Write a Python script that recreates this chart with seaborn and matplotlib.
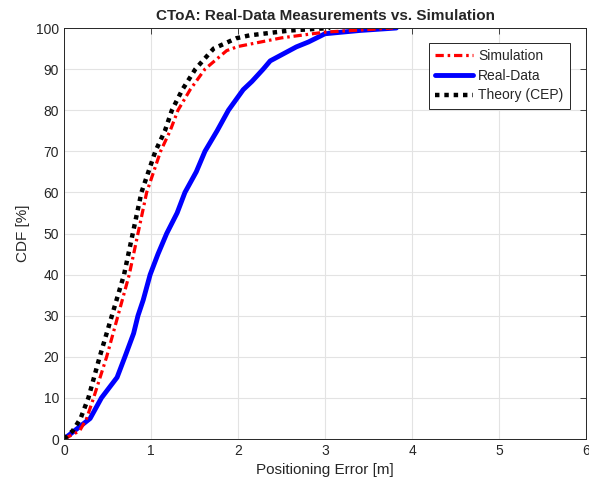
import pandas as pd
import seaborn as sns
import matplotlib.pyplot as plt

# CDF curves (x = positioning error [m], y = CDF [%])
sim_x = [0, 0.18, 0.26, 0.34, 0.49, 0.62, 0.75, 0.85, 0.95, 1.11, 1.22, 1.31, 1.45, 1.62, 1.87, 2.0, 2.5, 3.0, 3.78]
sim_y = [0, 2, 5, 10, 20, 30, 40, 50, 60, 70, 75, 80, 85, 90, 94.5, 95.5, 97.6, 99.0, 100]

real_x = [0, 0.12, 0.30, 0.43, 0.61, 0.70, 0.80, 0.85, 0.91, 0.99, 1.08, 1.18, 1.30, 1.39, 1.52, 1.62, 1.76, 1.89,
          2.06, 2.16, 2.29, 2.37, 2.67, 2.81, 3.0, 3.40, 3.82]
real_y = [0, 2, 5, 10, 15, 20, 25.7, 30, 33.8, 40, 45, 50, 55, 60, 65, 70, 75, 80,
          85, 87, 90, 92, 95.4, 96.6, 98.6, 99.4, 100]

cep_x = [0, 0.10, 0.19, 0.28, 0.41, 0.55, 0.69, 0.79, 0.89, 1.05, 1.16, 1.24, 1.36, 1.51, 1.72, 1.98, 2.13, 2.6, 3.06]
cep_y = [0, 2, 5, 10, 20, 30, 40, 50, 60, 70, 75, 80, 85, 90, 95, 97.5, 98.2, 99.4, 100]

sns.set_style("white")
plt.rcParams['font.family'] = ['Liberation Sans', 'DejaVu Sans']

fig = plt.figure(figsize=(5.89, 4.93), dpi=100)
ax = fig.add_axes([0.1087, 0.1095, 0.8862, 0.8337])

sns.lineplot(x=real_x, y=real_y, ax=ax, color='#0000ff', lw=3.5,
             label='Real-Data', sort=False)
sns.lineplot(x=sim_x, y=sim_y, ax=ax, color='#ff0000', lw=2.3,
             linestyle=(0, (2.6, 1.2, 0.8, 1.2)), label='Simulation', sort=False)
sns.lineplot(x=cep_x, y=cep_y, ax=ax, color='black', lw=3.2,
             linestyle=(0, (1, 1.1)), label='Theory (CEP)', sort=False)

ax.set_xlim(0, 6)
ax.set_ylim(0, 100)
ax.set_xticks(range(0, 7))
ax.set_yticks(range(0, 101, 10))
ax.grid(True, color='#e3e3e3', lw=0.8)
ax.set_axisbelow(True)
ax.tick_params(direction='in', length=4, width=0.6, colors='#262626', labelsize=10,
               top=True, right=True, labelcolor='#262626')
for s in ax.spines.values():
    s.set_color('#262626')
    s.set_linewidth(0.7)

ax.set_xlabel('Positioning Error [m]', fontsize=11, color='#262626')
ax.set_ylabel('CDF [%]', fontsize=11, color='#262626')
ax.set_title('CToA: Real-Data Measurements vs. Simulation', fontsize=11,
             fontweight='bold', pad=6)

h, l = ax.get_legend_handles_labels()
order = [l.index('Simulation'), l.index('Real-Data'), l.index('Theory (CEP)')]
leg = ax.legend([h[i] for i in order], [l[i] for i in order],
                loc='upper right', bbox_to_anchor=(0.969, 0.9635), borderaxespad=0,
                fontsize=10, handlelength=2.7, handletextpad=0.4, borderpad=0.45,
                labelspacing=0.4, fancybox=False, framealpha=1)
leg.get_frame().set_edgecolor('#262626')
leg.get_frame().set_linewidth(0.7)

fig.savefig('out.png', dpi=100)
